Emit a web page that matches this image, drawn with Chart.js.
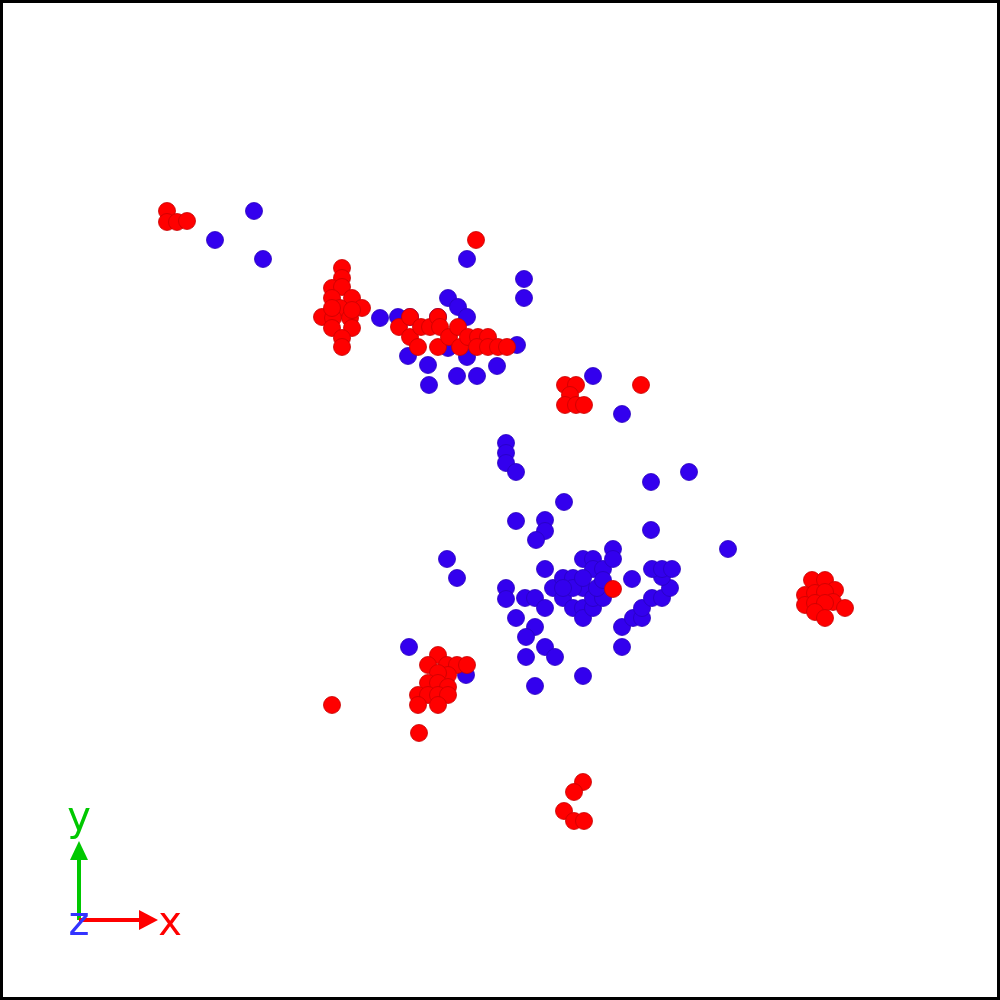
<!DOCTYPE html>
<html lang="en">
<head>
    <meta charset="UTF-8">
    <title>Atom view</title>
    <script src="https://cdn.jsdelivr.net/npm/chart.js"></script>
    <style>
        body { margin: 0; background: #fff; }
        canvas { display: block; }
    </style>
</head>
<body>
    <canvas id="atomChart" width="1000" height="1000"></canvas>

    <script>
        // red atoms (x, y in view units, y measured from the top)
        const redX = [167,167,177,187, 476,
            342,342,332,342,332,352,340,362,322,333,350,332,352,342,342,332,352,
            399,410,410,421,418,430,438,440,438,449,458,460,468,478,488,477,488,498,507,
            565,576,570,565,576,584, 641, 613,
            812,825,835,805,815,825,833,805,815,825,845,815,825,
            438,428,447,457,467,448,438,428,438,448,418,428,438,448,418,438, 332, 419,
            583,574,564,574,584];
        const redY = [211,222,222,221, 240,
            268,278,288,287,298,298,308,308,317,318,318,328,328,338,347,308,310,
            327,317,337,327,347,327,317,327,347,337,327,347,337,337,337,347,347,347,347,
            385,385,395,405,405,405, 385, 589,
            580,580,590,595,593,592,602,605,603,603,608,612,618,
            655,665,665,665,665,675,673,683,683,687,695,695,695,695,705,705, 705, 733,
            782,792,811,821,821];

        // blue atoms
        const blueX = [254,215,263, 467,524,524,
            380,398,410,438,448,458,467,517,408,428,429,457,477,497,448,467,
            593,622, 506,506,506,516, 651,689,564,516,545,545,536,651,728,
            447,457,409,466,
            613,583,593,593,603,613,545,506,506,525,535,545,516,535,526,545,555,526,535,583,
            622,622,633,642,642,652,662,670,662,652,662,672,632,
            553,563,573,583,563,573,583,583,593,593,603,597,603,573,563,583];
        const blueY = [211,240,259, 259,279,298,
            318,317,317,317,298,307,317,345,356,365,385,376,376,366,348,357,
            376,414, 443,453,463,472, 482,472,502,521,520,531,540,530,549,
            559,578,647,675,
            549,559,559,569,569,559,569,588,599,598,598,608,618,627,637,647,657,657,686,676,
            647,627,618,618,608,598,598,588,577,569,569,569,579,
            588,578,578,588,598,608,608,618,608,598,598,588,580,588,588,578];

        // orientation triad at the lower left
        const triadOrigin = [79, 920];
        const triadLabels = ['x', 'y', 'z'];
        const triadColors = ['#ff0000', '#00c800', '#3333ff'];

        const toPoints = (xs, ys) => xs.map((x, i) => ({ x: x, y: ys[i] }));

        const frameAndTriad = {
            id: 'frameAndTriad',
            beforeDraw(chart) {
                const ctx = chart.ctx;
                ctx.save();
                ctx.fillStyle = '#fff';
                ctx.fillRect(0, 0, chart.width, chart.height);
                ctx.restore();
            },
            afterDraw(chart) {
                const ctx = chart.ctx;
                const sx = chart.scales.x, sy = chart.scales.y;
                const ox = sx.getPixelForValue(triadOrigin[0]);
                const oy = sy.getPixelForValue(triadOrigin[1]);
                ctx.save();
                // y arrow
                ctx.strokeStyle = triadColors[1];
                ctx.fillStyle = triadColors[1];
                ctx.lineWidth = 4;
                ctx.beginPath();
                ctx.moveTo(ox, oy);
                ctx.lineTo(ox, oy - 62);
                ctx.stroke();
                ctx.beginPath();
                ctx.moveTo(ox - 9, oy - 60);
                ctx.lineTo(ox + 9, oy - 60);
                ctx.lineTo(ox, oy - 79);
                ctx.closePath();
                ctx.fill();
                // x arrow
                ctx.strokeStyle = triadColors[0];
                ctx.fillStyle = triadColors[0];
                ctx.beginPath();
                ctx.moveTo(ox, oy);
                ctx.lineTo(ox + 62, oy);
                ctx.stroke();
                ctx.beginPath();
                ctx.moveTo(ox + 60, oy - 10);
                ctx.lineTo(ox + 60, oy + 10);
                ctx.lineTo(ox + 79, oy);
                ctx.closePath();
                ctx.fill();
                // labels
                ctx.font = '40px "DejaVu Sans", sans-serif';
                ctx.textAlign = 'center';
                ctx.textBaseline = 'alphabetic';
                ctx.fillStyle = triadColors[0];
                ctx.fillText(triadLabels[0], ox + 91, oy + 15);
                ctx.fillStyle = triadColors[1];
                ctx.fillText(triadLabels[1], ox, oy - 90);
                ctx.fillStyle = triadColors[2];
                ctx.fillText(triadLabels[2], ox, oy + 15);
                // frame
                ctx.strokeStyle = '#000';
                ctx.lineWidth = 3;
                ctx.strokeRect(1.5, 1.5, chart.width - 3, chart.height - 3);
                ctx.restore();
            }
        };

        const ctx = document.getElementById('atomChart').getContext('2d');
        new Chart(ctx, {
            type: 'scatter',
            data: {
                datasets: [{
                    label: 'red',
                    data: toPoints(redX, redY),
                    backgroundColor: '#ff0000',
                    borderColor: 'rgba(200, 0, 0, 0.8)',
                    borderWidth: 1,
                    pointRadius: 8.5,
                    pointHoverRadius: 8.5
                }, {
                    label: 'blue',
                    data: toPoints(blueX, blueY),
                    backgroundColor: '#3300ee',
                    borderColor: 'rgba(40, 0, 190, 0.8)',
                    borderWidth: 1,
                    pointRadius: 8.5,
                    pointHoverRadius: 8.5
                }]
            },
            options: {
                responsive: false,
                animation: false,
                layout: { padding: 0, autoPadding: false },
                scales: {
                    x: { type: 'linear', min: 0, max: 1000, display: false },
                    y: { type: 'linear', min: 0, max: 1000, reverse: true, display: false }
                },
                plugins: {
                    legend: { display: false },
                    tooltip: { enabled: false }
                }
            },
            plugins: [frameAndTriad]
        });
    </script>
</body>
</html>
